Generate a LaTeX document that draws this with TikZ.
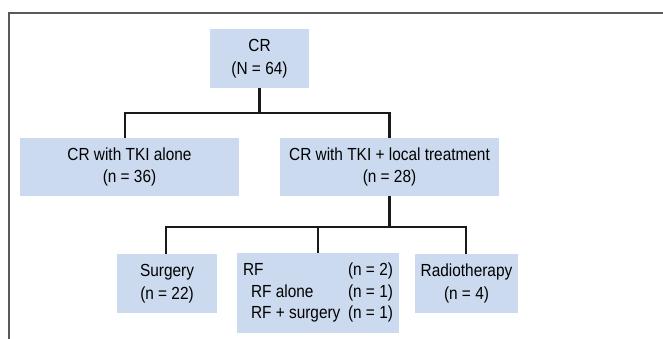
\documentclass[tikz,border=0pt]{standalone}
\usepackage{fontspec}
\setmainfont[FakeStretch=0.88]{Liberation Sans}
\usepackage{tikz}
\definecolor{boxblue}{RGB}{203,218,238}
\definecolor{framegray}{RGB}{90,90,90}
\definecolor{lineblack}{RGB}{25,25,25}

\begin{document}
\begin{tikzpicture}
			[x=1pt,y=-1pt,
			b/.style= {fill=boxblue,inner sep=0pt,align=center,font=\fontsize{17.5}{22.5}\selectfont},
			ln/.style= {line width=2.2pt,draw=lineblack}]

			\useasboundingbox (0,0) rectangle (663,339);

			% frame
			\draw[framegray,line width=1.1pt] (9,339) -- (9,13) -- (663,13);

			\node[b,minimum width=99pt,minimum height=59pt] (cr) at (259.5,58.5) {CR\\(N = 64)};

			\node[b,minimum width=219pt,minimum height=58pt] (alone) at (129.5,167) {CR with TKI alone\\(n = 36)};

			\node[b,minimum width=219pt,minimum height=58pt] (local) at (389.5,167) {CR with TKI + local treatment\\(n = 28)};

			\node[b,minimum width=100pt,minimum height=59pt] (surg) at (167,283.5) {Surgery\\(n = 22)};

			\node[b,minimum width=162pt,minimum height=80pt] (rf) at (318,293)
				{\fontsize{17.5}{21.5}\selectfont
				\begin{tabular}{@{}p{105pt}@{}l@{}}
				RF & (n = 2)\\
				\hspace{8pt}RF alone & (n = 1)\\
				\hspace{8pt}RF + surgery & (n = 1)
				\end{tabular}};

			\node[b,minimum width=103pt,minimum height=59pt] (radio) at (466.5,283.5) {Radiotherapy\\(n = 4)};

			% branches
			\coordinate (t1) at (125,113);
			\coordinate (t2) at (389.5,113);
			\draw[ln] (cr.south) -- (cr.south |- t1);
			\draw[ln] (alone.north -| t1) -- (t1) -- (t2) -- (local.north);

			\coordinate (t3) at (166,227);
			\coordinate (t4) at (466,227);
			\draw[ln] (local.south) -- (local.south |- t3);
			\draw[ln] (surg.north -| t3) -- (t3) -- (t4) -- (radio.north -| t4);
			\draw[ln] (rf.north) -- (rf.north |- t3);

		\end{tikzpicture}
\end{document}
